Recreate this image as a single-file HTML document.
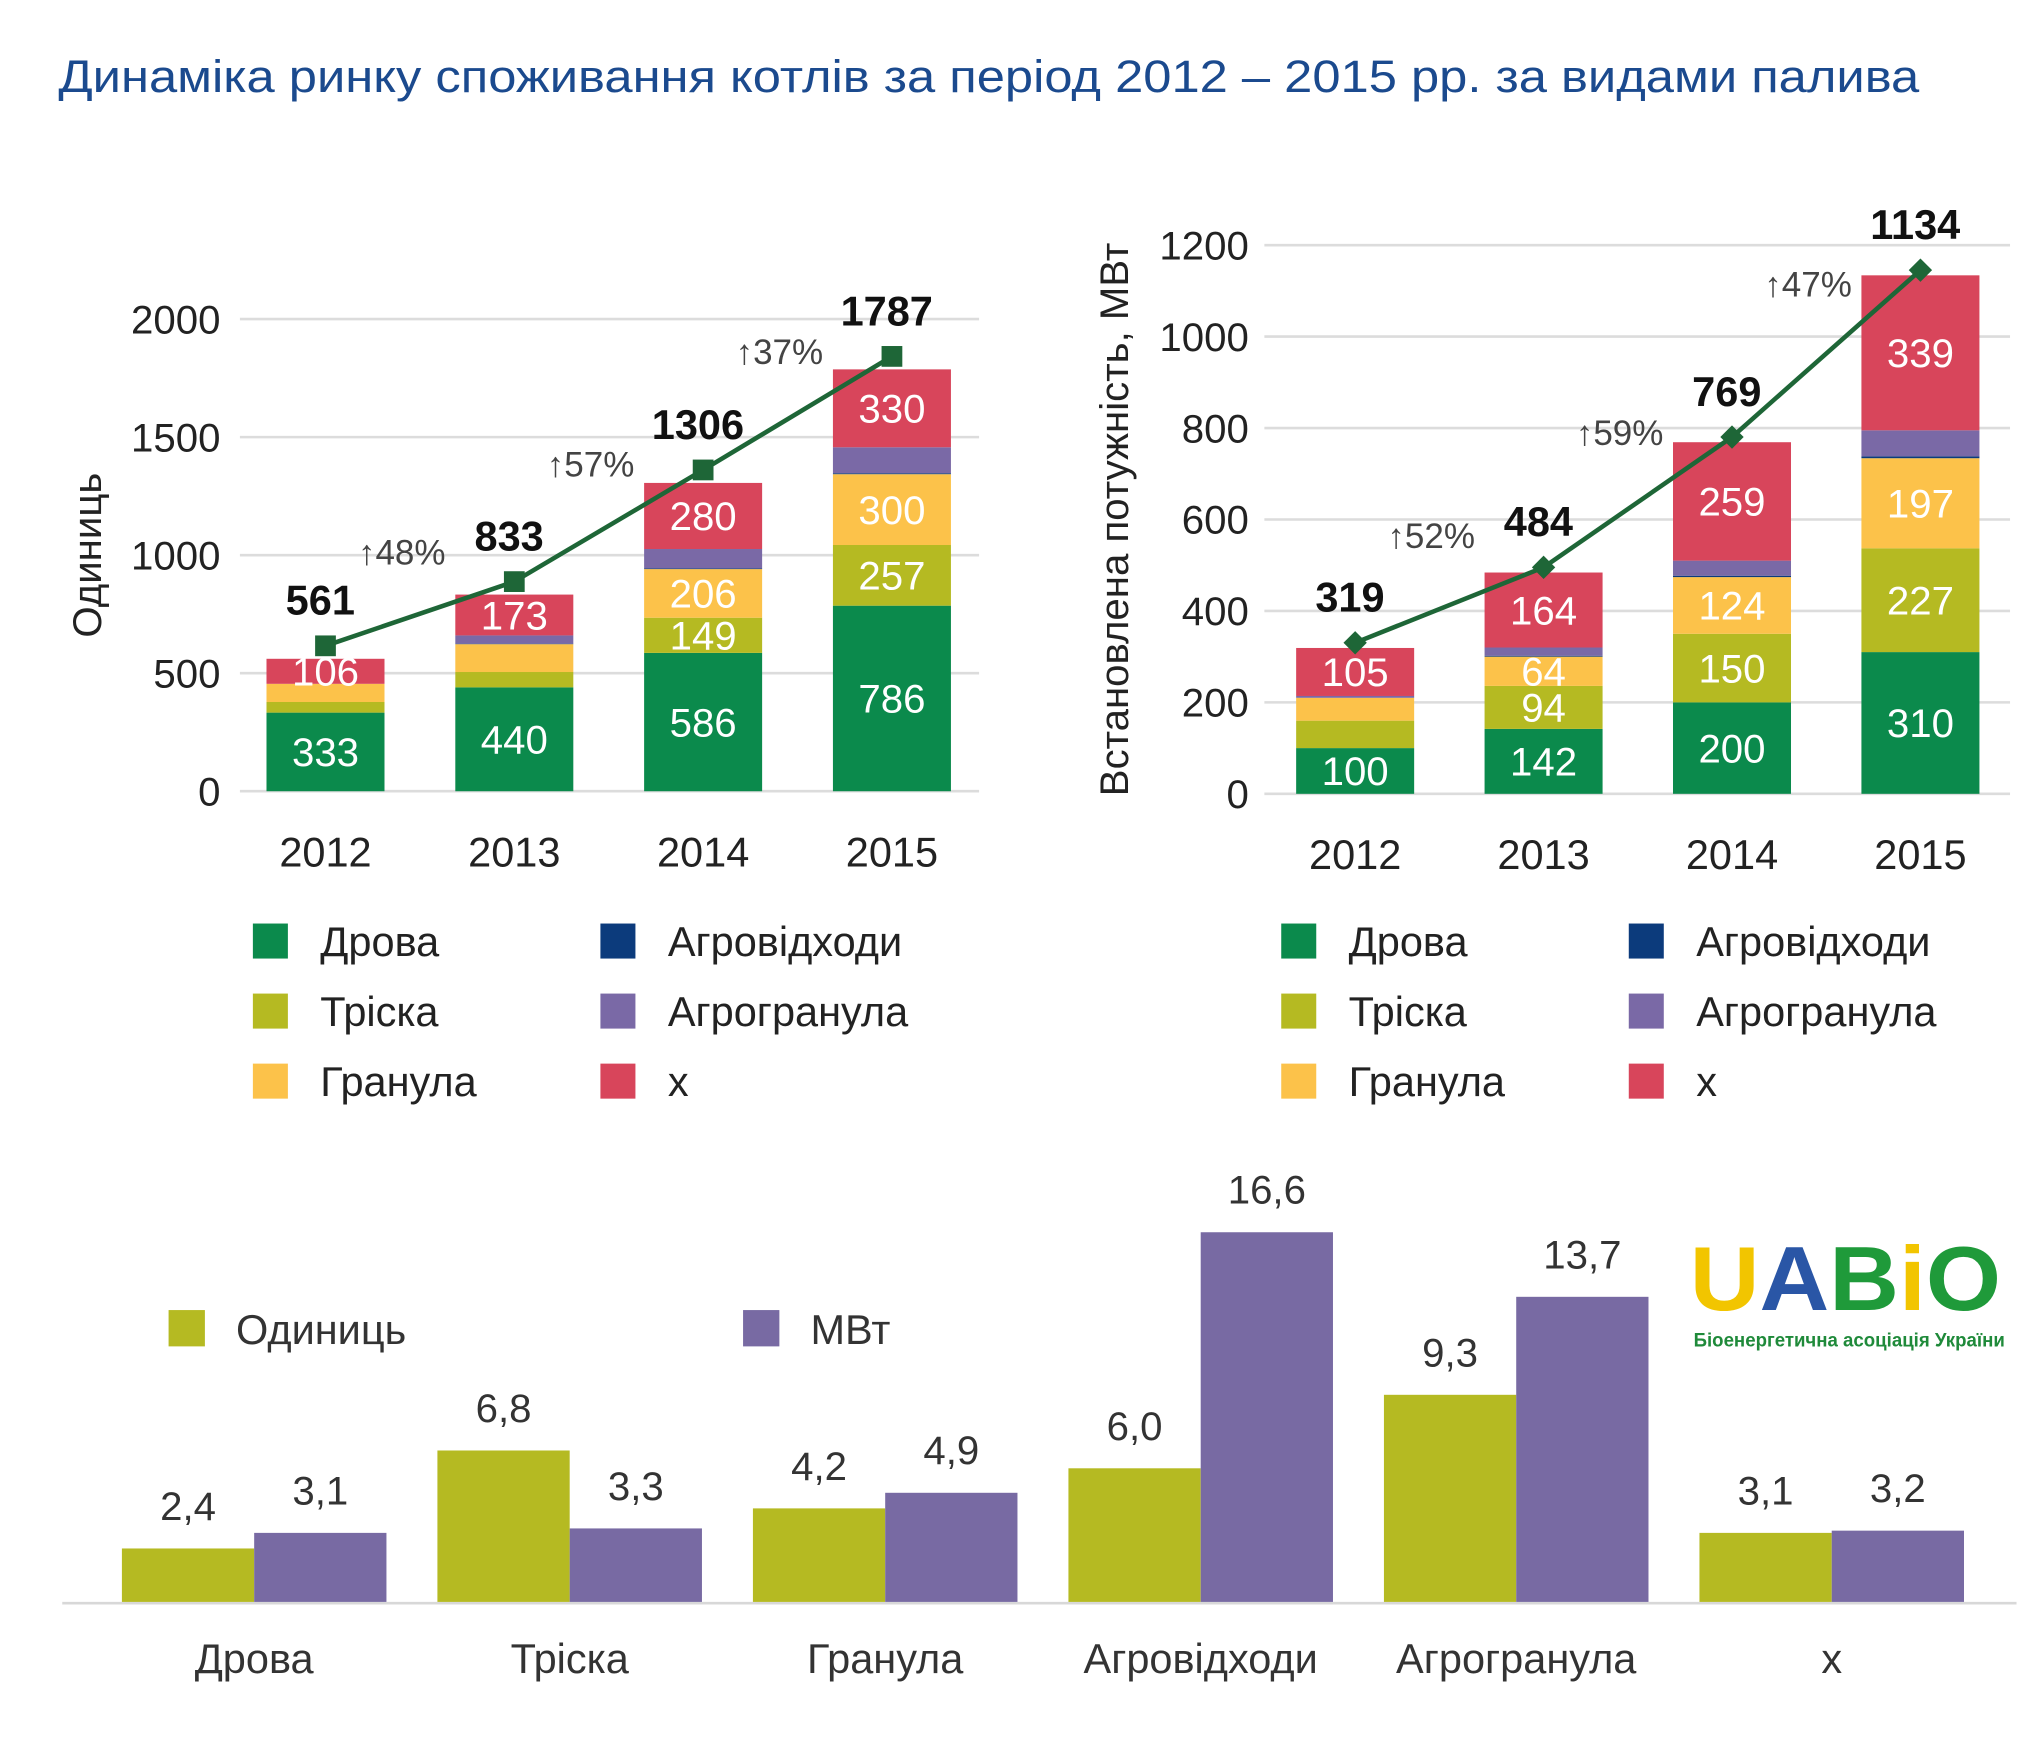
<!DOCTYPE html>
<html><head><meta charset="utf-8">
<style>
html,body{margin:0;padding:0;background:#fff;}
svg{display:block;font-family:"Liberation Sans","DejaVu Sans",sans-serif;}
</style></head>
<body>
<svg id="root" width="2023" height="1742" viewBox="0 0 1560 1343" preserveAspectRatio="none" xmlns="http://www.w3.org/2000/svg">
<text x="45" y="71" font-size="35" fill="#1b4a8e" textLength="1435" lengthAdjust="spacingAndGlyphs">Динаміка ринку споживання котлів за період 2012 – 2015 рр. за видами палива</text>
<g id="left"></g>
<g id="right"></g>
<g id="bottom"></g>
<g>
<text x="1303" y="1010" font-size="70" font-weight="bold" fill="#1f9a3a" textLength="240" lengthAdjust="spacingAndGlyphs"><tspan fill="#f2c500">U</tspan><tspan fill="#2a56a6">A</tspan>B<tspan fill="#f2c500">i</tspan>O</text>
<text x="1306" y="1038" font-size="15" font-weight="bold" fill="#1f8a3a" textLength="240" lengthAdjust="spacingAndGlyphs">Біоенергетична асоціація України</text>
</g>
</svg>
<script>
const years = ['2012','2013','2014','2015'];
const series = ['Дрова','Тріска','Гранула','Агровідходи','Агрогранула','x'];
const colors = ['#0b8a4c','#b5ba22','#fcc24a','#0c3b7c','#7a69a6','#d8455b'];
const unitsDrova = [333,440,586,786];
const unitsTriska = [45,65,149,257];
const unitsGranula = [77,118,206,300];
const unitsAgrovid = [0,2,3,4];
const unitsAgrogran = [0,35,82,110];
const unitsX = [106,173,280,330];
const unitsTotals = [561,833,1306,1787];
const unitsGrowth = ['↑48%','↑57%','↑37%'];
const unitsTicks = [0,500,1000,1500,2000];
const mwDrova = [100,142,200,310];
const mwTriska = [60,94,150,227];
const mwGranula = [50,64,124,197];
const mwAgrovid = [0,2,3,4];
const mwAgrogran = [4,18,33,57];
const mwX = [105,164,259,339];
const mwTotals = [319,484,769,1134];
const mwGrowth = ['↑52%','↑59%','↑47%'];
const mwTicks = [0,200,400,600,800,1000,1200];
const fuelCats = ['Дрова','Тріска','Гранула','Агровідходи','Агрогранула','x'];
const growthUnits = [2.4,6.8,4.2,6.0,9.3,3.1];
const growthMW = [3.1,3.3,4.9,16.6,13.7,3.2];

const NS='http://www.w3.org/2000/svg';
function mk(parent,tag,attrs,text){const e=document.createElementNS(NS,tag);for(const k in attrs)e.setAttribute(k,attrs[k]);if(text!==undefined)e.textContent=text;parent.appendChild(e);return e;}

function stacked(g,cfg){
  const y=v=>cfg.y0-(v-0)*(cfg.y0-cfg.yTop)/cfg.max;
  const x=i=>cfg.x0+i*cfg.step;
  cfg.ticks.forEach(t=>{
    const l=mk(g,'line',{x1:cfg.gx1,x2:cfg.gx2,y1:y(t),y2:y(t),stroke:'#dcdcdc','stroke-width':2});
    
    
    const tl=mk(g,'text',{x:cfg.tickX,y:y(t)+11,'font-size':31,'text-anchor':'end',fill:'#222'},String(t));
    
    
  });
  const yt=mk(g,'text',{x:0,y:0,'font-size':31,fill:'#222','text-anchor':'middle',transform:`translate(${cfg.titleX},${(cfg.y0+cfg.yTop)/2}) rotate(-90)`},cfg.title);
  
  
  const data=cfg.data;
  years.forEach((yr,i)=>{
    let acc=0;
    data.forEach((arr,s)=>{
      const v=arr[i]; if(v<=0){return;}
      const r=mk(g,'rect',{x:x(i)-cfg.bw/2,y:y(acc+v),width:cfg.bw,height:y(acc)-y(acc+v),fill:colors[s]});
      
      
      if(cfg.labelled[s] && (s===0 || s===5 || v>=cfg.minLabel)){
        const lt=mk(g,'text',{x:x(i),y:(y(acc)+y(acc+v))/2+11,'font-size':31,'text-anchor':'middle',fill:'#fff'},String(v));
        
        
      }
      acc+=v;
    });
    const xl=mk(g,'text',{x:x(i),y:cfg.y0+58,'font-size':32,'text-anchor':'middle',fill:'#222'},yr);
    
    
  });
  const off=cfg.off;
  const pts=cfg.totals.map((t,i)=>`${x(i)},${y(t)-off}`).join(' ');
  const pl=mk(g,'polyline',{points:pts,fill:'none',stroke:'#1e6637','stroke-width':3.5});
  
  
  cfg.totals.forEach((t,i)=>{
    const py=y(t)-off;
    const m=cfg.diamond?mk(g,'path',{d:`M${x(i)-9},${py} L${x(i)},${py-9} L${x(i)+9},${py} L${x(i)},${py+9}Z`,fill:'#1e6637'}):mk(g,'rect',{x:x(i)-8,y:py-8,width:16,height:16,fill:'#1e6637'});
    
    
    const tl=mk(g,'text',{x:x(i)-4,y:py-24,'font-size':32,'font-weight':'bold','text-anchor':'middle',fill:'#111'},String(t));
    
    
    if(i>0){
      const gl=mk(g,'text',{x:(x(i-1)+x(i))/2-14,y:(y(cfg.totals[i-1])+y(t))/2-48,'font-size':27,'text-anchor':'middle',fill:'#444'},cfg.growth[i-1]);
      
      
    }
  });
  series.forEach((s,k)=>{
    const col=Math.floor(k/3),row=k%3;
    const lx=cfg.legX+col*268, ly=cfg.legY+row*54;
    const sw=mk(g,'rect',{x:lx,y:ly-26,width:27,height:27,fill:colors[k]});
    
    
    const lt=mk(g,'text',{x:lx+52,y:ly-1,'font-size':32,fill:'#222'},s);
    
    
  });
}
stacked(document.getElementById('left'),{y0:610,yTop:246,max:2000,x0:251,step:145.6,bw:91,gx1:185,gx2:755,tickX:170,titleX:78,
 title:'Одиниць',ticks:unitsTicks,data:[unitsDrova,unitsTriska,unitsGranula,unitsAgrovid,unitsAgrogran,unitsX],
 labelled:[1,1,1,0,0,1],minLabel:140,totals:unitsTotals,growth:unitsGrowth,diamond:false,off:10,legX:195,legY:738});
stacked(document.getElementById('right'),{y0:612,yTop:189,max:1200,x0:1045,step:145.3,bw:91,gx1:975,gx2:1550,tickX:963,titleX:870,
 title:'Встановлена потужність, МВт',ticks:mwTicks,data:[mwDrova,mwTriska,mwGranula,mwAgrovid,mwAgrogran,mwX],
 labelled:[1,1,1,0,0,1],minLabel:64,totals:mwTotals,growth:mwGrowth,diamond:true,off:4,legX:988,legY:738});

(function(){
  const g=document.getElementById('bottom');
  const base=1235, k=285/16.6, bw=102;
  const cx=i=>196+i*243.3;
  const bl=mk(g,'line',{x1:48,x2:1555,y1:base+1,y2:base+1,stroke:'#d8d8d8','stroke-width':2});
  
  
  fuelCats.forEach((c,i)=>{
    [[growthUnits,'#b5ba22',-1],[growthMW,'#786aa3',0]].forEach(([arr,col,o])=>{
      const v=arr[i];
      const r=mk(g,'rect',{x:cx(i)+o*bw,y:base-v*k,width:bw,height:v*k,fill:col});
      
      
      const t=mk(g,'text',{x:cx(i)+o*bw+bw/2,y:base-v*k-22,'font-size':31,'text-anchor':'middle',fill:'#333'},v.toFixed(1).replace('.',','));
      
      
    });
    const xl=mk(g,'text',{x:cx(i),y:1290,'font-size':32,'text-anchor':'middle',fill:'#333'},c);
    
    
  });
  const bg=mk(g,'rect',{x:100,y:990,width:700,height:80,fill:'#fff'});
  
  
  [['Одиниць','#b5ba22',130],['МВт','#786aa3',573]].forEach(([n,c,lx])=>{
    const s=mk(g,'rect',{x:lx,y:1010,width:28,height:28,fill:c});
    
    
    const t=mk(g,'text',{x:lx+52,y:1036,'font-size':32,fill:'#333'},n);
    
    
  });
})();
</script>
</body></html>
